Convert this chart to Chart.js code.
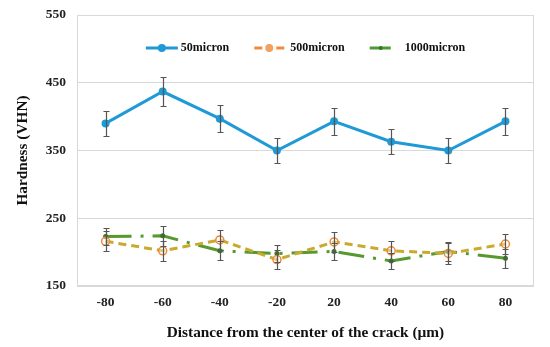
<!DOCTYPE html>
<html>
<head>
<meta charset="utf-8">
<script src="https://cdn.jsdelivr.net/npm/chart.js@4.4.0/dist/chart.umd.min.js"></script>
<style>
  html, body { margin: 0; padding: 0; background: #fff; }
  #wrap { width: 550px; height: 347px; }
</style>
</head>
<body>
<div id="wrap"><canvas id="hardnessChart"></canvas></div>
<script>
// values (hardness in VHN)
const positions = ["-80", "-60", "-40", "-20", "20", "40", "60", "80"];
const micron50 = [390, 437, 397, 350, 393, 363, 350, 393];
const micron50Err = [19, 22, 20, 18, 20, 18, 18, 20];
const micron500 = [216, 202, 218, 189, 215, 202, 198, 212];
const micron500Err = [15, 15, 15, 14, 15, 15, 15, 15];
const micron1000 = [223, 224, 202, 198, 201, 187, 201, 191];
const micron1000Err = [12, 15, 14, 12, 12, 12, 14, 14];
const yTicks = [150, 250, 350, 450, 550];

const serif = "'Liberation Serif', 'Times New Roman', serif";

// legend drawn inside the plot, like the excel original
function drawIcon(g, kind, x, y) {
  g.save();
  g.lineWidth = 3;
  if (kind === 0) {
    g.strokeStyle = g.fillStyle = "#1f9ad6";
    g.beginPath(); g.moveTo(x, y); g.lineTo(x + 32, y); g.stroke();
    g.beginPath(); g.arc(x + 16, y, 4, 0, Math.PI * 2); g.fill();
  } else if (kind === 1) {
    g.strokeStyle = "#f08a3e";
    g.fillStyle = "#f4a060";
    g.beginPath(); g.moveTo(x, y); g.lineTo(x + 8, y); g.moveTo(x + 22, y); g.lineTo(x + 30, y); g.stroke();
    g.beginPath(); g.arc(x + 15, y, 4, 0, Math.PI * 2); g.fill();
  } else {
    g.strokeStyle = "#4a9a3a";
    g.fillStyle = "#3b7424";
    g.beginPath(); g.moveTo(x, y); g.lineTo(x + 21, y); g.stroke();
    g.beginPath(); g.arc(x + 11, y, 2, 0, Math.PI * 2); g.fill();
  }
  g.restore();
}
const iconW = [32, 30, 21];
const iconGap = [3, 6, 14];

const insideLegend = {
  id: "insideLegend",
  afterDatasetsDraw(chart) {
    const { ctx, chartArea: a } = chart;
    const sets = chart.data.datasets;
    ctx.save();
    ctx.font = "bold 12px " + serif;
    ctx.fillStyle = "#111";
    ctx.textBaseline = "middle";
    const widths = sets.map((ds, i) => iconW[i] + iconGap[i] + ctx.measureText(ds.label).width);
    const total = widths.reduce((s, w) => s + w, 0) + 25 * (sets.length - 1);
    let x = (a.left + a.right) / 2 - total / 2;
    const y = a.top + 33;
    sets.forEach((ds, i) => {
      drawIcon(ctx, i, x, y);
      ctx.fillText(ds.label, x + iconW[i] + iconGap[i], y);
      x += widths[i] + 25;
    });
    ctx.restore();
  }
};

const errorBars = {
  id: "errorBars",
  afterDatasetsDraw(chart) {
    const ctx = chart.ctx;
    const yScale = chart.scales.y;
    ctx.save();
    ctx.strokeStyle = "#555";
    ctx.lineWidth = 1.2;
    chart.data.datasets.forEach((ds, i) => {
      const meta = chart.getDatasetMeta(i);
      if (!ds.errors) return;
      meta.data.forEach((pt, j) => {
        const top = Math.round(yScale.getPixelForValue(ds.data[j] + ds.errors[j])) + 0.5;
        const bot = Math.round(yScale.getPixelForValue(ds.data[j] - ds.errors[j])) + 0.5;
        const x = Math.round(pt.x) + 0.5;
        ctx.beginPath();
        ctx.moveTo(x, top); ctx.lineTo(x, bot);
        ctx.moveTo(x - 3, top); ctx.lineTo(x + 3, top);
        ctx.moveTo(x - 3, bot); ctx.lineTo(x + 3, bot);
        ctx.stroke();
      });
    });
    ctx.restore();
  }
};

const plotFrame = {
  id: "plotFrame",
  beforeDatasetsDraw(chart) {
    const { ctx, chartArea: a } = chart;
    ctx.save();
    ctx.strokeStyle = "#d9d9d9";
    ctx.lineWidth = 1;
    ctx.strokeRect(Math.round(a.left) + 0.5, Math.round(a.top) + 0.5,
      Math.round(a.width) - 1, Math.round(a.height) - 1);
    ctx.restore();
  }
};

const data = {
  labels: positions,
  datasets: [
    {
      label: "50micron",
      data: micron50,
      errors: micron50Err,
      borderColor: "#1f9ad6",
      backgroundColor: "#1f9ad6",
      borderWidth: 3,
      pointRadius: 4,
      pointBackgroundColor: "#1f9ad6",
      pointBorderWidth: 0,
      order: 0,
    },
    {
      label: "500micron",
      data: micron500,
      errors: micron500Err,
      borderColor: "#c9aa2c",
      backgroundColor: "#c9aa2c",
      borderDash: [8, 5],
      borderWidth: 3,
      pointRadius: 4,
      pointBackgroundColor: "rgba(255,255,255,0.4)",
      pointBorderColor: "#ee8a3c",
      pointBorderWidth: 1.5,
      order: 1,
    },
    {
      label: "1000micron",
      data: micron1000,
      errors: micron1000Err,
      borderColor: "#55992f",
      backgroundColor: "#55992f",
      borderDash: [26, 9, 3, 9],
      borderWidth: 3,
      pointRadius: 2.5,
      pointBackgroundColor: "#3b7424",
      pointBorderWidth: 0,
      order: 2,
    },
  ],
};

const config = {
  type: "line",
  data: data,
  options: {
    responsive: true,
    maintainAspectRatio: false,
    animation: false,
    layout: { padding: { left: 14, right: 16, top: 15, bottom: 1 } },
    plugins: {
      tooltip: { enabled: false },
      legend: { display: false },
    },
    scales: {
      x: {
        offset: true,
        afterFit(scale) { scale.height = 60; },
        grid: { display: false, drawTicks: false },
        border: { display: false },
        ticks: {
          padding: 8,
          color: "#222",
          font: { family: serif, size: 13.5, weight: "bold" },
        },
        title: {
          display: true,
          text: "Distance from the center of the crack (µm)",
          color: "#111",
          font: { family: serif, size: 15.3, weight: "bold" },
          padding: { top: 8, bottom: 4 },
        },
      },
      y: {
        min: yTicks[0],
        max: yTicks[yTicks.length - 1],
        afterBuildTicks(scale) {
          scale.ticks = yTicks.map((v) => ({ value: v }));
        },
        afterFit(scale) {
          scale.width = 63;
          scale.paddingTop = 0;
          scale.paddingBottom = 0;
        },
        grid: { color: "#d9d9d9", drawTicks: false },
        border: { display: false },
        ticks: {
          padding: 11,
          color: "#222",
          font: { family: serif, size: 13.5, weight: "bold" },
        },
        title: {
          display: true,
          text: "Hardness (VHN)",
          color: "#111",
          font: { family: serif, size: 15.3, weight: "bold" },
          padding: { top: 0, bottom: 11 },
        },
      },
    },
  },
  plugins: [plotFrame, errorBars, insideLegend],
};

let myChart = new Chart(document.getElementById("hardnessChart"), config);
</script>
</body>
</html>
